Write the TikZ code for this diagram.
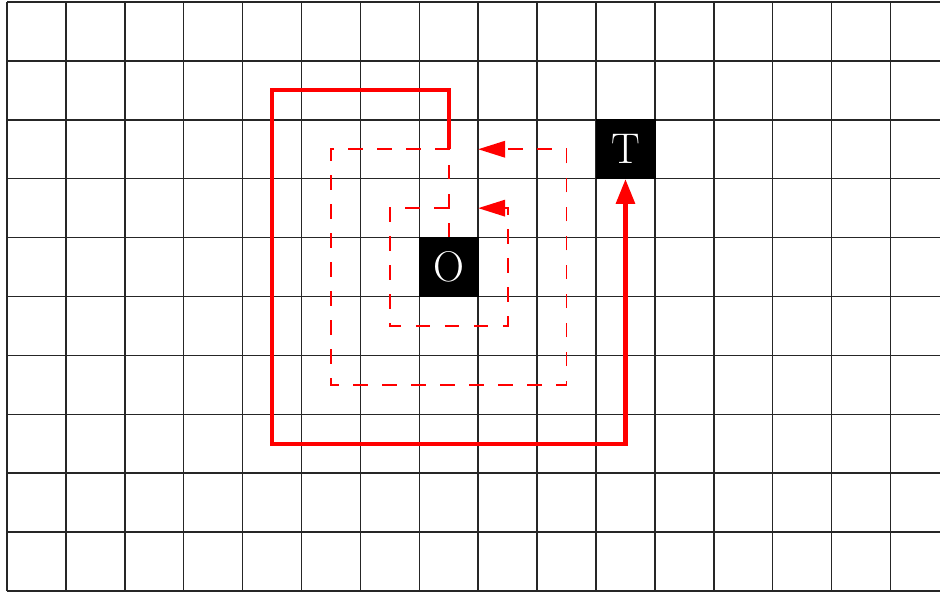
\documentclass[tikz,border=0pt]{standalone}
\usepackage{tikz}
\usetikzlibrary{arrows.meta}

\begin{document}
\begin{tikzpicture}[
  cell/.style={draw, fill=black, text=white, minimum size=1cm, inner sep=0pt, font=\huge},
  walk/.style={draw=red, line width=2pt, -{Triangle[length=12pt, width=9pt, fill=red]}},
  probe/.style={draw=red, line width=0.8pt, dash pattern=on 7pt off 7pt, -{Triangle[length=13pt, width=8pt, fill=red]}}
]
  \useasboundingbox (-0.119,-0.034) rectangle (15.84,10.034);
  \clip (-0.119,-0.034) rectangle (15.84,10.034);
  \draw[line width=0.7pt, black!85] (0,0) grid (16,10);

  \node[cell] (O) at (7.5,5.5) {O};
  \node[cell] (T) at (10.5,7.5) {T};
  \coordinate (inner) at (7.5,6.5);
  \coordinate (turn) at (7.5,7.5);

  % spiral search around O
  \draw[probe] (inner) |- ++(-2,1) -- ++(0,-4) -| ++(4,4) -- ++(-1.5,0);
  \draw[probe] (O.north) -- (inner) -- ++(-1,0) -- ++(0,-2) -| ++(2,2) -- ++(-0.5,0);
  % path to the target
  \draw[walk] (turn) |- ++(-3,1) -- ++(0,-6) -| (T.south);
\end{tikzpicture}
\end{document}
